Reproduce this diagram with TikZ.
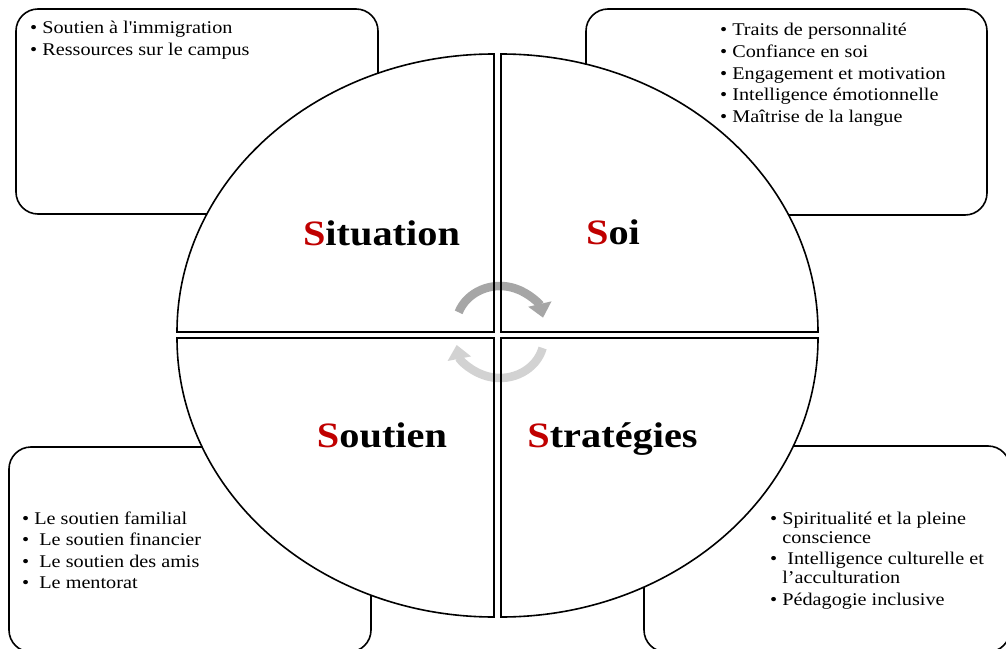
\documentclass[tikz,border=0pt]{standalone}
\usepackage{fontspec}
\setmainfont{Liberation Serif}[FakeStretch=1.13]
\newfontfamily\nomap{Liberation Serif}[FakeStretch=1.13]
\usetikzlibrary{arrows.meta}
\definecolor{sred}{RGB}{192,0,0}
\definecolor{arrdark}{RGB}{166,166,166}
\definecolor{arrlight}{RGB}{210,210,210}
\tikzset{
  panel/.style={draw=black, line width=1.6bp, rounded corners=22bp, fill=white},
  quad/.style={line width=1.6bp, draw=black},
  quadfill/.style={fill=white},
  title/.style={font=\fontsize{35.7bp}{40bp}\selectfont\bfseries, inner sep=0pt, anchor=base},
  items/.style={font=\fontsize{17.9bp}{21.6bp}\selectfont, inner sep=0pt, anchor=base west},
  cyc/.style={line width=8.5bp, -{Triangle[length=14bp,width=23bp]}},
}
\begin{document}
\begin{tikzpicture}[x=1bp,y=1bp]
\useasboundingbox (0,0) rectangle (1006,-649);
\clip (0,0) rectangle (1006,-649);
% outer boxes
\draw[panel] (16,-9) rectangle (378,-214);
\draw[panel] (586,-9) rectangle (987,-215);
\draw[panel] (9,-447) rectangle (371,-652);
\draw[panel] (644,-446) rectangle (1010,-652);
% quadrant fills
\fill[quadfill] (494,-332) -- (177,-332) arc[start angle=180, end angle=90, x radius=317, y radius=278] -- cycle;
\fill[quadfill] (501,-54) arc[start angle=90, end angle=0, x radius=317, y radius=278] -- (501,-332) -- cycle;
\fill[quadfill] (494,-338) -- (177,-338) arc[start angle=180, end angle=270, x radius=317, y radius=279] -- cycle;
\fill[quadfill] (501,-338) -- (818,-338) arc[start angle=0, end angle=-90, x radius=317, y radius=279] -- cycle;
% cycle arrows
\coordinate (cycA) at (500,-326);
\coordinate (cycB) at (500,-338);
\draw[cyc, arrdark] ([shift={(160:44 and 40)}]cycA) arc[start angle=160, end angle=12, x radius=44, y radius=40];
\draw[cyc, arrlight] ([shift={(-14.5:44 and 40)}]cycB) arc[start angle=-14.5, end angle=-170, x radius=44, y radius=40];
% quadrant outlines
\draw[quad] (494,-332) -- (177,-332) arc[start angle=180, end angle=90, x radius=317, y radius=278] -- cycle;
\draw[quad] (501,-54) arc[start angle=90, end angle=0, x radius=317, y radius=278] -- (501,-332) -- cycle;
\draw[quad] (494,-338) -- (177,-338) arc[start angle=180, end angle=270, x radius=317, y radius=279] -- cycle;
\draw[quad] (501,-338) -- (818,-338) arc[start angle=0, end angle=-90, x radius=317, y radius=279] -- cycle;
% titles
\node[title] (situation) at (381.5,-245) {\textcolor{sred}{S}ituation};
\node[title] (soi) at (613,-244) {\textcolor{sred}{S}oi};
\node[title] (soutien) at (382,-447) {\textcolor{sred}{S}outien};
\node[title] (strategies) at (612.5,-447) {\textcolor{sred}{S}tratégies};
% item lists
\node[items] (tlitems) at (30,-34) {\begin{tabular}[t]{@{}l@{}}
• Soutien à l{\nomap '}immigration\\
• Ressources sur le campus
\end{tabular}};
\node[items] (tritems) at (720,-36) {\begin{tabular}[t]{@{}l@{}}
• Traits de personnalité\\
• Confiance en soi\\
• Engagement et motivation\\
• Intelligence émotionnelle\\
• Maîtrise de la langue
\end{tabular}};
\node[items] (blitems) at (22,-524) {\begin{tabular}[t]{@{}l@{}}
• Le soutien familial\\
• \ Le soutien financier\\
• \ Le soutien des amis\\
• \ Le mentorat
\end{tabular}};
\node[items] (britems) at (770,-524.3) {\begin{tabular}[t]{@{}l@{}}
• Spiritualité et la pleine\\[-2.6bp]
\hphantom{•}\ conscience\\
• \ Intelligence culturelle et\\[-2.6bp]
\hphantom{•}\ l’acculturation\\
• Pédagogie inclusive
\end{tabular}};
\end{tikzpicture}
\end{document}
